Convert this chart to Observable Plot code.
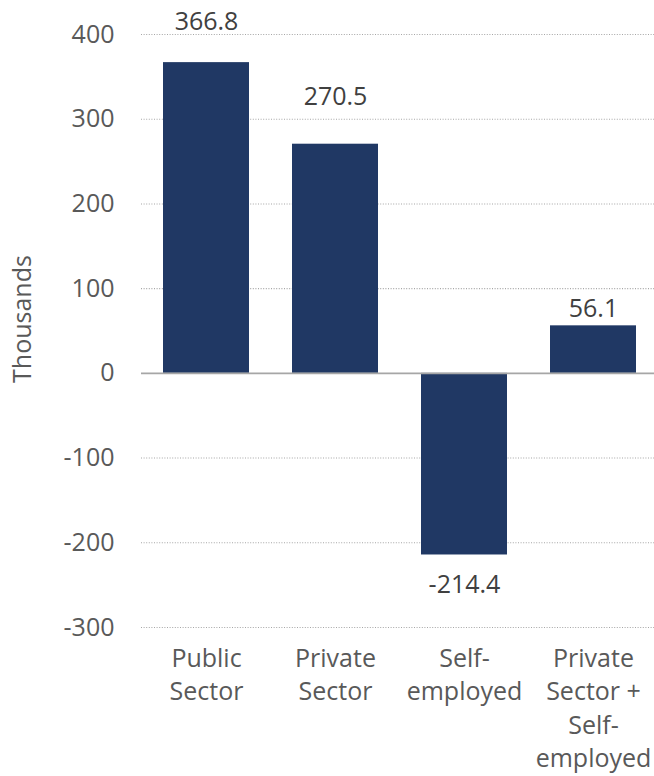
<!DOCTYPE html>
<html>
<head>
<meta charset="utf-8">
<script src="https://cdn.jsdelivr.net/npm/d3@7"></script>
<script src="https://cdn.jsdelivr.net/npm/@observablehq/plot@0.6"></script>
<style>
  html, body { margin: 0; padding: 0; background: #fff; }
  #chart svg { display: block; font-family: "Open Sans", sans-serif; }
</style>
</head>
<body>
<div id="chart"></div>
<script>
const categories = ["Public Sector", "Private Sector", "Self-employed", "Private Sector + Self-employed"];
const values = [366.8, 270.5, -214.4, 56.1];
const tickLabels = ["Public\nSector", "Private\nSector", "Self-\nemployed", "Private\nSector +\nSelf-\nemployed"];
const yTicks = [-300, -200, -100, 0, 100, 200, 300, 400];
const yLabel = "Thousands";

const data = categories.map((c, i) => ({cat: c, value: values[i], label: values[i].toFixed(1)}));
const labelOf = new Map(categories.map((c, i) => [c, tickLabels[i]]));

// label offsets (style) per category
const labelDy = {
  "Public Sector": -41,
  "Private Sector": -47,
  "Self-employed": 30,
  "Private Sector + Self-employed": -17
};

const barColor = "#203864";

const chart = Plot.plot({
  width: 654,
  height: 776,
  marginLeft: 141,
  marginRight: 0,
  marginTop: 34,
  marginBottom: 149,
  style: {fontFamily: "'Open Sans', sans-serif", fontSize: "25px", background: "#fff"},
  x: {domain: categories, range: [141.5, 658], paddingInner: 0.33, paddingOuter: 0.165, label: null},
  y: {domain: [-300, 400], label: null},
  marks: [
    Plot.ruleY(yTicks.filter(d => d !== 0), {stroke: "#a6a6a6", strokeWidth: 1.1, strokeDasharray: "1,1.6"}),
    Plot.barY(data, {x: "cat", y: "value", fill: barColor}),
    Plot.ruleY([0], {stroke: "#a6a6a6", strokeWidth: 1.6}),
    ...categories.map(c => Plot.text(data.filter(d => d.cat === c), {
      x: "cat", y: "value", text: "label", dy: labelDy[c],
      fill: "#404040", fontSize: 25
    })),
    Plot.axisY({ticks: yTicks, tickSize: 0, tickPadding: 27, fontSize: 25, color: "#595959", label: null, tickFormat: d => String(d)}),
    Plot.axisX({tickSize: 0, tickPadding: 16, fontSize: 25, color: "#595959", label: null, lineHeight: 1.333, tickFormat: d => labelOf.get(d)}),
    Plot.text([yLabel], {frameAnchor: "left", textAnchor: "middle", text: d => d, rotate: -90, dx: -119, dy: -12, fill: "#595959", fontSize: 25})
  ]
});
document.getElementById("chart").appendChild(chart);
</script>
</body>
</html>
